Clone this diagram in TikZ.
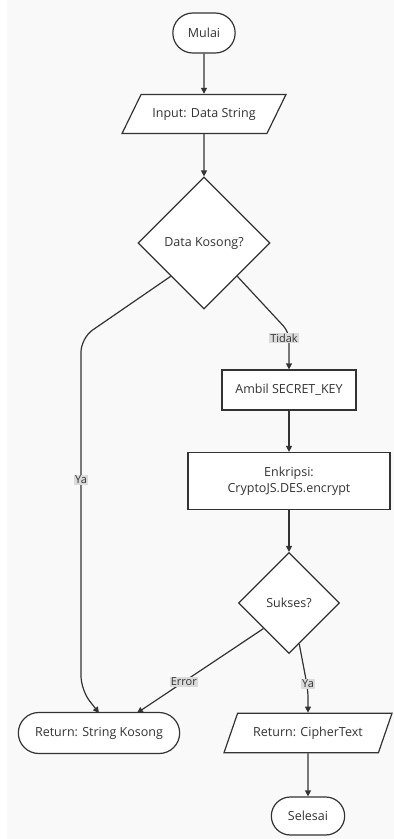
\documentclass[tikz,border=0pt]{standalone}
\usepackage{fontspec}
\setmainfont{Open Sans}
\usetikzlibrary{shapes.geometric,shapes.misc,arrows.meta,calc}
\definecolor{ink}{HTML}{333333}
\begin{document}
\begin{tikzpicture}[x=1pt,y=-1pt,
  font=\fontsize{12.5}{16}\selectfont, text=ink, line width=1.2pt,
  term/.style={draw=ink,fill=white,rounded rectangle,minimum height=40},
  io/.style={draw=ink,fill=white,trapezium,trapezium stretches body,trapezium left angle=#1,trapezium right angle=180-#1,inner ysep=13.5,minimum height=39},
  proc/.style={draw=ink,fill=white,rectangle,minimum height=40},
  cond/.style={draw=ink,fill=white,diamond,inner sep=0pt,minimum width=#1,minimum height=#1},
  flow/.style={draw=ink,-{Triangle[length=6pt,width=6pt]}},
  lbl/.style={fill=gray!28,inner sep=1pt,font=\fontsize{11}{13}\selectfont}]
\useasboundingbox (0,0) rectangle (394,839);
\fill[white] (0,0) rectangle (394,839);
\fill[gray!5] (7,0) rectangle (394,839);
% nodes
\node[term,minimum width=69] (mulai) at (204,33) {Mulai};
\node[io=64,minimum width=164] (input) at (204,114) {Input: Data String};
\node[cond=132] (kosong) at (204,243) {Data Kosong?};
\node[proc,minimum width=134] (ambil) at (289,390) {Ambil SECRET\_KEY};
\node[proc,minimum width=202,minimum height=57,align=center] (enkrip) at (289,481) {Enkripsi:\\CryptoJS.DES.encrypt};
\node[cond=101] (sukses) at (289,603) {Sukses?};
\node[term,minimum width=168,minimum height=41] (kosongret) at (99,733) {Return: String Kosong};
\node[io=71,minimum width=168] (cipher) at (308,733) {Return: CipherText};
\node[term,minimum width=80,minimum height=38] (selesai) at (308,816) {Selesai};
% connectors
\draw[flow] (mulai) -- (input);
\draw[flow] (input) -- (kosong);
\draw[flow,rounded corners=8] (kosong.south east) -- (289,332) -- (ambil.north);
\node[lbl] (tidak) at (284,338) {Tidak};
\draw[flow,rounded corners=14] (kosong.south west) -- (81,338) -- (81,690) -- (kosongret.north|-0,713);
\node[lbl] (ya1) at (81,480) {Ya};
\draw[flow] (ambil) -- (enkrip);
\draw[flow] (enkrip) -- (sukses);
\coordinate (errend) at (137,713);
\draw[flow] (sukses.south west) -- (errend) node[lbl,pos=0.63] (error) {Error};
\draw[flow,rounded corners=8] ($(sukses.south)!0.2!(sukses.east)$) -- (308,690) -- (cipher.north);
\node[lbl] (ya2) at (308,684) {Ya};
\draw[flow] (cipher) -- (selesai);
\end{tikzpicture}
\end{document}
